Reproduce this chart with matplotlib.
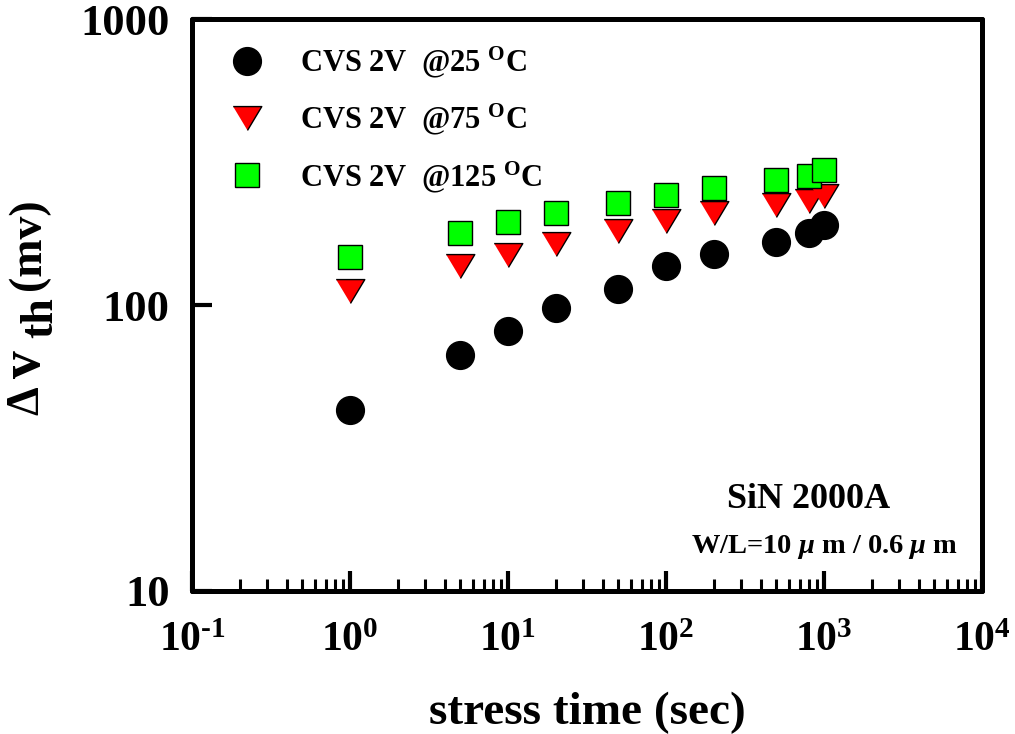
import math
import matplotlib
matplotlib.use("Agg")
import matplotlib.pyplot as plt
from matplotlib.ticker import LogLocator, FixedLocator, NullLocator, FuncFormatter

# Threshold-voltage shift under constant voltage stress (mV)
time_s = [1, 5, 10, 20, 50, 100, 200, 500, 800, 1000]
dvth_25C = [43, 67, 81, 98, 114, 137, 151, 166, 179, 190]
dvth_75C = [112, 137, 150, 163, 181, 196, 209, 223, 231, 241]
dvth_125C = [147, 178, 195, 210, 227, 242, 257, 274, 283, 296]

series_labels = [r"CVS 2V  @25 $^{\mathbf{O}}$C",
                 r"CVS 2V  @75 $^{\mathbf{O}}$C",
                 r"CVS 2V  @125 $^{\mathbf{O}}$C"]
x_ticks = [0.1, 1, 10, 100, 1000, 10000]
y_ticks = [10, 100, 1000]

plt.rcParams.update({
    "font.family": ["Liberation Serif", "DejaVu Serif"],
    "font.weight": "bold",
    "mathtext.fontset": "custom",
    "mathtext.rm": "Liberation Serif:bold",
    "mathtext.bf": "Liberation Serif:bold",
    "mathtext.it": "Liberation Serif:italic:bold",
    "mathtext.default": "bf",
})

W, H = 1015, 734
fig = plt.figure(figsize=(W / 100, H / 100), dpi=100)
ax = fig.add_axes([192 / W, 143 / H, 790 / W, 572 / H])
ax.set_xscale("log")
ax.set_yscale("log")
ax.set_xlim(0.1, 1e4)
ax.set_ylim(10, 1000)

tri_down = [(-1.2, 1.0), (1.2, 1.0), (0.0, -1.0)]
ax.plot(time_s, dvth_25C, ls="none", marker="o", ms=20, mfc="black",
        mec="black", mew=1, label=series_labels[0], zorder=3)
ax.plot(time_s, dvth_75C, ls="none", marker=tri_down, ms=20.6, mfc="#ff0000",
        mec="black", mew=1, label=series_labels[1], zorder=4)
ax.plot(time_s, dvth_125C, ls="none", marker="s", ms=17.8, mfc="#00ff00",
        mec="black", mew=1, label=series_labels[2], zorder=5)

# axes frame and ticks
for sp in ax.spines.values():
    sp.set_linewidth(3.6)
    sp.set_capstyle("round")


def decade_label(v, pos):
    e = round(math.log10(v))
    exp = r"\text{-}%d" % abs(e) if e < 0 else "%d" % e
    return r"$\mathbf{10^{%s}}$" % exp


ax.xaxis.set_major_locator(FixedLocator(x_ticks))
ax.xaxis.set_minor_locator(LogLocator(base=10, subs=range(2, 10), numticks=30))
ax.xaxis.set_major_formatter(FuncFormatter(decade_label))
ax.yaxis.set_major_locator(FixedLocator(y_ticks))
ax.yaxis.set_minor_locator(NullLocator())
ax.yaxis.set_major_formatter(FuncFormatter(lambda v, p: "%d" % v))

ax.tick_params(axis="x", which="major", direction="in", length=14.5, width=3,
               top=False, bottom=True, labelsize=30, pad=22)
ax.tick_params(axis="x", which="minor", direction="in", length=8.5, width=2.2,
               top=False, bottom=True)
ax.tick_params(axis="y", which="major", direction="in", length=14.5, width=3,
               left=True, right=False, labelsize=32, pad=16)
for t in ax.get_xticklabels() + ax.get_yticklabels():
    t.set_fontweight("bold")

ax.set_xlabel("stress time (sec)", fontsize=34, fontweight="bold", labelpad=23)


# y-axis label built from pieces so the subscript keeps full size
def px(x, y):
    return x / W, 1 - y / H


ylab_parts = [("\u0394", 38, 415, 33), ("v", 40, 378, 40),
              ("th", 52, 338, 33), ("(mv)", 40, 290, 33)]
for txt, bx, by, fs in ylab_parts:
    fx, fy = px(bx, by)
    fig.text(fx, fy, txt, rotation=90, rotation_mode="anchor", ha="left",
             va="baseline", fontsize=fs, fontweight="bold")

leg = ax.legend(loc="upper left", bbox_to_anchor=(0.05, 0.955), frameon=False,
                fontsize=22, handlelength=1.0, handletextpad=1.25,
                labelspacing=0.72, borderpad=0, borderaxespad=0)

ax.text(0.780, 0.145, "SiN 2000A", transform=ax.transAxes, ha="center",
        va="baseline", fontsize=26, fontweight="bold")
ax.text(0.801, 0.066, r"W/L=10 $\mathit{\mu}$ m / 0.6 $\mathit{\mu}$ m",
        transform=ax.transAxes, ha="center", va="baseline", fontsize=20.5,
        fontweight="bold")

fig.savefig("out.png", dpi=100)
